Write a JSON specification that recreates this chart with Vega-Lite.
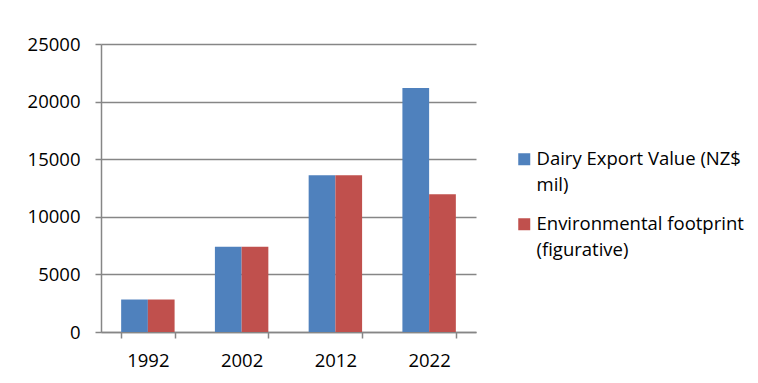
{
  "$schema": "https://vega.github.io/schema/vega-lite/v6.json",
  "width": 375,
  "height": 288,
  "autosize": {"type": "none"},
  "padding": {"left": 101, "top": 44, "right": 282, "bottom": 51},
  "background": "white",
  "data": {
    "values": [
      {"year": "1992", "series": "Dairy Export Value (NZ$ mil)", "value": 2820},
      {"year": "1992", "series": "Environmental footprint (figurative)", "value": 2820},
      {"year": "2002", "series": "Dairy Export Value (NZ$ mil)", "value": 7400},
      {"year": "2002", "series": "Environmental footprint (figurative)", "value": 7400},
      {"year": "2012", "series": "Dairy Export Value (NZ$ mil)", "value": 13600},
      {"year": "2012", "series": "Environmental footprint (figurative)", "value": 13600},
      {"year": "2022", "series": "Dairy Export Value (NZ$ mil)", "value": 21170},
      {"year": "2022", "series": "Environmental footprint (figurative)", "value": 11950}
    ]
  },
  "mark": {"type": "bar"},
  "encoding": {
    "x": {
      "field": "year",
      "type": "nominal",
      "title": null,
      "scale": {"paddingInner": 0.43, "paddingOuter": 0.215},
      "axis": {
        "labelAngle": 0,
        "tickBand": "extent",
        "grid": false,
        "domainColor": "#868686",
        "domainWidth": 1.5,
        "tickColor": "#868686",
        "tickWidth": 1.5,
        "tickSize": 6,
        "labelPadding": 13,
        "labelFont": "Open Sans",
        "labelFontSize": 18.5,
        "labelColor": "black"
      }
    },
    "xOffset": {"field": "series", "type": "nominal", "scale": {"paddingInner": 0, "paddingOuter": 0}},
    "y": {
      "field": "value",
      "type": "quantitative",
      "title": null,
      "scale": {"domain": [0, 25000], "nice": false},
      "axis": {
        "values": [0, 5000, 10000, 15000, 20000, 25000],
        "format": "d",
        "grid": true,
        "gridColor": "#868686",
        "gridWidth": 1.5,
        "domainColor": "#868686",
        "domainWidth": 1.5,
        "tickColor": "#868686",
        "tickWidth": 1.5,
        "tickSize": 6,
        "labelPadding": 15,
        "labelFont": "Open Sans",
        "labelFontSize": 18.5,
        "labelColor": "black"
      }
    },
    "color": {
      "field": "series",
      "type": "nominal",
      "scale": {
        "domain": ["Dairy Export Value (NZ$ mil)", "Environmental footprint (figurative)"],
        "range": ["#4F81BD", "#C0504D"]
      },
      "legend": {
        "title": null,
        "orient": "none",
        "legendX": 414,
        "legendY": 106,
        "symbolType": "square",
        "symbolSize": 144,
        "symbolStrokeWidth": 0,
        "labelFont": "Open Sans",
        "labelFontSize": 18.5,
        "labelColor": "black",
        "labelLimit": 300,
        "labelOffset": 3,
        "labelBaseline": "top",
        "rowPadding": 20,
        "labelExpr": "datum.label == 'Dairy Export Value (NZ$ mil)' ? ['Dairy Export Value (NZ$', 'mil)'] : ['Environmental footprint', '(figurative)']",
        "encode": {
          "labels": {"update": {"lineHeight": {"value": 26}, "dy": {"value": -9}}}
        }
      }
    }
  },
  "config": {
    "view": {"stroke": null}
  }
}
